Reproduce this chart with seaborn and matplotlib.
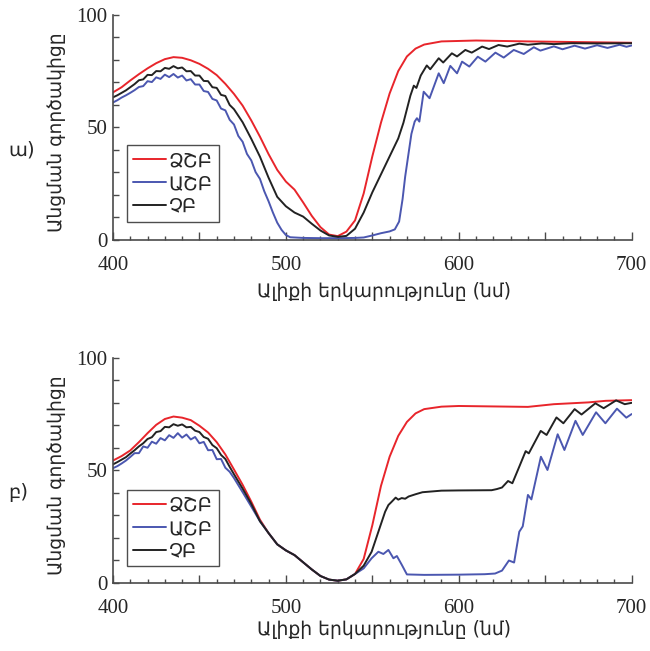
import matplotlib
matplotlib.use("Agg")
import matplotlib.pyplot as plt
import seaborn as sns
import pandas as pd
from matplotlib.ticker import FixedLocator, MultipleLocator, FuncFormatter

# ---------------- data : panel a ----------------
a_red_x = [400, 405, 410, 415, 420, 425, 430, 435, 440, 445, 450, 455, 460, 465, 470, 475,
           480, 485, 490, 495, 500, 505, 510, 515, 520, 525, 530, 535, 540, 545, 550, 555,
           560, 565, 570, 575, 580, 590, 610, 640, 670, 700]
a_red_y = [65.5, 67.8, 70.8, 73.6, 76.2, 78.5, 80.3, 81.2, 80.9, 79.8, 78.2, 76.0, 73.2, 69.3,
           64.8, 59.6, 53.0, 45.8, 38.0, 31.0, 25.8, 22.2, 16.5, 10.5, 5.5, 2.2, 1.5, 3.5, 8.5,
           20.5, 37.0, 52.0, 65.0, 75.0, 81.5, 85.0, 86.8, 88.2, 88.6, 88.2, 87.9, 87.6]

a_blue_x = [400, 402.5, 405, 407.5, 410, 412.5, 415, 417.5, 420, 422.5, 425, 427.5, 430, 432.5,
            435, 437.5, 440, 442.5, 445, 447.5, 450, 452.5, 455, 457.5, 460, 462.5, 465, 467.5,
            470, 472.5, 475, 477.5, 480, 482.5, 485, 487.5, 490, 492.5, 495, 497.5, 500, 502.5,
            510, 520, 530, 540, 545, 550, 555, 560, 563, 565.5, 567.5, 569, 570.7, 572.6, 574.5,
            575.8, 577.2, 579.7, 583.1, 588.4, 591.3, 595.1, 599, 601.9, 606.1, 611, 615.4,
            621.2, 626, 631.8, 637.6, 643.4, 647.2, 655, 660, 667, 673, 680, 686, 693, 697, 700]
a_blue_y = [61.0, 62.0, 63.2, 64.2, 65.3, 66.5, 67.9, 68.3, 70.5, 70.1, 72.2, 71.5, 73.4, 72.3,
            73.7, 72.1, 73.0, 70.8, 71.4, 69.0, 69.0, 66.1, 65.7, 62.6, 61.9, 58.3, 57.5, 53.3,
            51.2, 46.1, 43.5, 38.1, 35.2, 30.0, 27.0, 21.5, 17.0, 12.0, 7.5, 4.3, 2.0, 1.0,
            0.7, 0.6, 0.6, 0.7, 0.9, 1.8, 2.8, 3.6, 4.5, 8.0, 18.0, 28.0, 37.0, 47.0, 52.5,
            54.0, 52.5, 65.8, 62.9, 74.0, 69.6, 77.3, 74.0, 79.2, 77.0, 81.4, 79.2,
            83.2, 81.0, 84.4, 82.6, 85.6, 84.1, 86.0, 84.7, 86.3, 85.0, 86.5, 85.3, 86.7, 85.8, 86.4]

a_black_x = [400, 402.5, 405, 407.5, 410, 412.5, 415, 417.5, 420, 422.5, 425, 427.5, 430, 432.5,
             435, 437.5, 440, 442.5, 445, 447.5, 450, 452.5, 455, 457.5, 460, 462.5, 465, 467.5,
             470, 475, 480, 485, 490, 495, 500, 505, 510, 515, 520, 525, 530, 535, 540, 545,
             550, 555, 560, 565, 568, 570, 572, 574, 575.5, 578, 581.5, 583.5, 588.4, 591, 596,
             599, 603.8, 607.5, 613.5, 617.5, 623, 628, 635, 640, 648, 655, 665, 680, 700]
a_black_y = [63.3, 64.2, 65.3, 66.4, 67.8, 69.2, 70.9, 71.3, 73.3, 73.2, 75.0, 74.9, 76.4, 76.0,
             77.2, 76.2, 76.6, 74.9, 75.0, 73.0, 73.0, 70.6, 70.5, 67.8, 67.5, 64.4, 63.9, 59.9,
             58.0, 52.2, 44.8, 36.9, 27.5, 19.0, 14.8, 12.0, 10.2, 7.0, 4.0, 1.8, 1.2, 1.6, 4.8,
             12.0, 21.0, 29.0, 37.0, 45.0, 52.0, 58.0, 64.0, 68.5, 67.5, 73.0, 77.5, 75.8, 80.7,
             78.8, 82.9, 81.5, 84.4, 83.2, 85.9, 84.8, 86.6, 85.9, 87.2, 86.7, 87.3, 87.0, 87.4,
             87.3, 87.4]

# ---------------- data : panel b ----------------
b_red_x = [400, 405, 410, 415, 420, 425, 430, 435, 440, 445, 450, 455, 460, 465, 470, 475, 480,
           485, 490, 495, 500, 505, 510, 515, 520, 525, 530, 535, 540, 545, 550, 555, 560, 565,
           570, 575, 580, 590, 600, 620, 640, 655, 675, 685, 700]
b_red_y = [54.3, 56.3, 58.8, 62.5, 66.5, 70.2, 72.8, 73.9, 73.4, 72.3, 69.8, 66.8, 62.5, 57.0,
           50.3, 43.5, 36.0, 28.0, 22.0, 17.0, 14.3, 12.2, 9.0, 5.8, 2.9, 1.3, 0.8, 1.4, 3.8,
           10.5, 25.5, 43.0, 56.0, 65.3, 71.5, 75.3, 77.2, 78.3, 78.6, 78.4, 78.2, 79.4, 80.2,
           80.9, 81.2]

b_blue_x = [400, 402.5, 405, 407.5, 410, 412.5, 415, 417.5, 420, 422.5, 425, 427.5, 430, 432.5,
            435, 437.5, 440, 442.5, 445, 447.5, 450, 452.5, 455, 457.5, 460, 462.5, 465, 467.5,
            470, 475, 480, 485, 490, 495, 500, 505, 510, 515, 520, 525, 530, 535, 540, 545,
            549.6, 553.5, 556.4, 559.3, 562.2, 564.2, 567.1, 570, 580, 600, 615, 621, 625, 629,
            632, 635, 637, 640, 642, 647.5, 651.3, 657.2, 661.1, 667.5, 671.7, 679.4, 684.8,
            691.5, 696.9, 700]
b_blue_y = [50.9, 51.8, 53.0, 54.3, 55.9, 57.6, 57.6, 60.6, 60.0, 62.7, 61.8, 64.3, 63.3, 65.6,
            64.4, 66.5, 64.5, 65.9, 63.7, 64.8, 62.0, 62.6, 58.9, 59.0, 54.9, 55.0, 51.1, 49.3,
            46.5, 40.2, 33.8, 27.3, 22.0, 17.0, 14.3, 12.2, 9.0, 5.8, 2.9, 1.3, 0.8, 1.4, 3.8,
            6.3, 10.8, 13.7, 12.7, 14.5, 10.8, 11.8, 7.8, 3.6, 3.4, 3.5, 3.7, 4.0, 5.3, 9.8,
            8.9, 22.6, 25.0, 39.0, 37.0, 56.0, 50.1, 66.0, 59.0, 72.0, 65.7, 75.8, 70.9,
            77.4, 73.4, 75.0]

b_black_x = [400, 402.5, 405, 407.5, 410, 412.5, 415, 417.5, 420, 422.5, 425, 427.5, 430, 432.5,
             435, 437.5, 440, 442.5, 445, 447.5, 450, 452.5, 455, 457.5, 460, 462.5, 465, 467.5,
             470, 475, 480, 485, 490, 495, 500, 505, 510, 515, 520, 525, 530, 535, 540, 545,
             549.6, 553.5, 557.4, 559.3, 561, 563.5, 565, 567, 569, 571, 575, 579, 590, 600,
             619, 622, 625, 628.5, 631, 634.9, 638.7, 640.5, 647.4, 650.8, 656.5, 660.5, 667,
             671, 679, 683.8, 691, 696, 700]
b_black_y = [52.6, 53.6, 54.7, 55.8, 57.4, 58.9, 60.6, 62.0, 63.9, 64.7, 67.0, 67.4, 69.3, 69.1,
             70.5, 69.8, 70.4, 69.1, 69.3, 67.6, 67.0, 64.8, 64.0, 61.2, 59.8, 56.8, 55.0, 51.5,
             48.2, 41.8, 35.0, 27.3, 22.0, 17.0, 14.3, 12.2, 9.0, 5.8, 2.9, 1.3, 0.8, 1.4, 3.8,
             7.5, 13.7, 22.6, 31.5, 34.5, 35.8, 37.8, 36.9, 37.6, 37.3, 38.3, 39.3, 40.2, 40.9,
             41.0, 41.1, 41.6, 42.3, 45.2, 44.2, 51.4, 58.5, 57.5, 67.5, 65.7, 73.5, 70.9, 77.2,
             74.8, 79.8, 77.6, 81.1, 79.4, 80.0]

labels = ["ՁՇԲ", "ԱՇԲ", "ՉԲ"]
colors = ["#e8252b", "#4b57b0", "#222222"]
panel_labels = ["ա)", "բ)"]
ylabel = "Անցման գործակիցը"
xlabel = "Ալիքի երկարությունը (նմ)"
xtick_vals = [400, 500, 600, 700]
ytick_vals = [0, 50, 100]

sns.set_style("ticks")
plt.rcParams["font.family"] = ["DejaVu Sans"]

fig = plt.figure(figsize=(6.5, 6.51), dpi=100)
ax1 = fig.add_axes([0.1738, 0.6321, 0.798, 0.345])
ax2 = fig.add_axes([0.1738, 0.1052, 0.798, 0.345])

def build(xs_list, ys_list):
    frames = []
    for lab, xs, ys in zip(labels, xs_list, ys_list):
        frames.append(pd.DataFrame({"wl": xs, "T": ys, "s": lab}))
    return pd.concat(frames, ignore_index=True)

df_a = build([a_red_x, a_blue_x, a_black_x], [a_red_y, a_blue_y, a_black_y])
df_b = build([b_red_x, b_blue_x, b_black_x], [b_red_y, b_blue_y, b_black_y])

spine_col = "#4a4a4a"
for ax, df, lab, leg_y, xl_y, py in [(ax1, df_a, panel_labels[0], 0.42, -0.19, 150),
                                     (ax2, df_b, panel_labels[1], 0.412, -0.165, 493)]:
    sns.lineplot(data=df, x="wl", y="T", hue="s", hue_order=labels,
                 palette=colors, estimator=None, sort=False, lw=1.4, ax=ax)
    ax.set_xlim(400, 700)
    ax.set_ylim(0, 100)
    ax.xaxis.set_major_locator(FixedLocator([400, 450, 500, 550, 600, 650, 700]))
    ax.xaxis.set_major_formatter(FuncFormatter(lambda v, p: f"{int(v)}" if int(v) in xtick_vals else ""))
    ax.xaxis.set_minor_locator(MultipleLocator(10))
    ax.yaxis.set_major_locator(FixedLocator(ytick_vals))
    ax.yaxis.set_minor_locator(MultipleLocator(10))
    ax.tick_params(axis="both", which="both", direction="in", color=spine_col, width=1.0)
    ax.tick_params(axis="x", which="major", length=6, pad=12)
    ax.tick_params(axis="x", which="minor", length=3)
    ax.tick_params(axis="y", which="major", length=4, pad=4)
    ax.tick_params(axis="y", which="minor", length=4)
    for t in ax.get_xticklabels() + ax.get_yticklabels():
        t.set_fontfamily("Liberation Serif")
        t.set_fontsize(15)
    for s in ["top", "right"]:
        ax.spines[s].set_visible(False)
    for s in ["left", "bottom"]:
        ax.spines[s].set_color(spine_col)
        ax.spines[s].set_linewidth(1.2)
    ax.set_xlabel(xlabel, fontsize=13.5, family=["DejaVu Sans"])
    ax.set_ylabel(ylabel, fontsize=13.5, family=["DejaVu Sans"])
    ax.xaxis.set_label_coords(0.523, xl_y)
    ax.yaxis.set_label_coords(-0.09, 0.48)
    leg = ax.legend(loc="upper left", bbox_to_anchor=(0.027, leg_y), borderaxespad=0,
                    fontsize=14, handlelength=1.7, handletextpad=0.15, labelspacing=0.2,
                    borderpad=0.3, fancybox=False, frameon=True)
    leg.get_frame().set_edgecolor("#222222")
    leg.get_frame().set_linewidth(1.0)
    for ln in leg.get_lines():
        ln.set_linewidth(1.4)
    fig.text(8 / 650, 1 - py / 651, lab, fontsize=14, ha="left", va="center",
             family=["DejaVu Sans"])

fig.savefig("out.png", dpi=100)
